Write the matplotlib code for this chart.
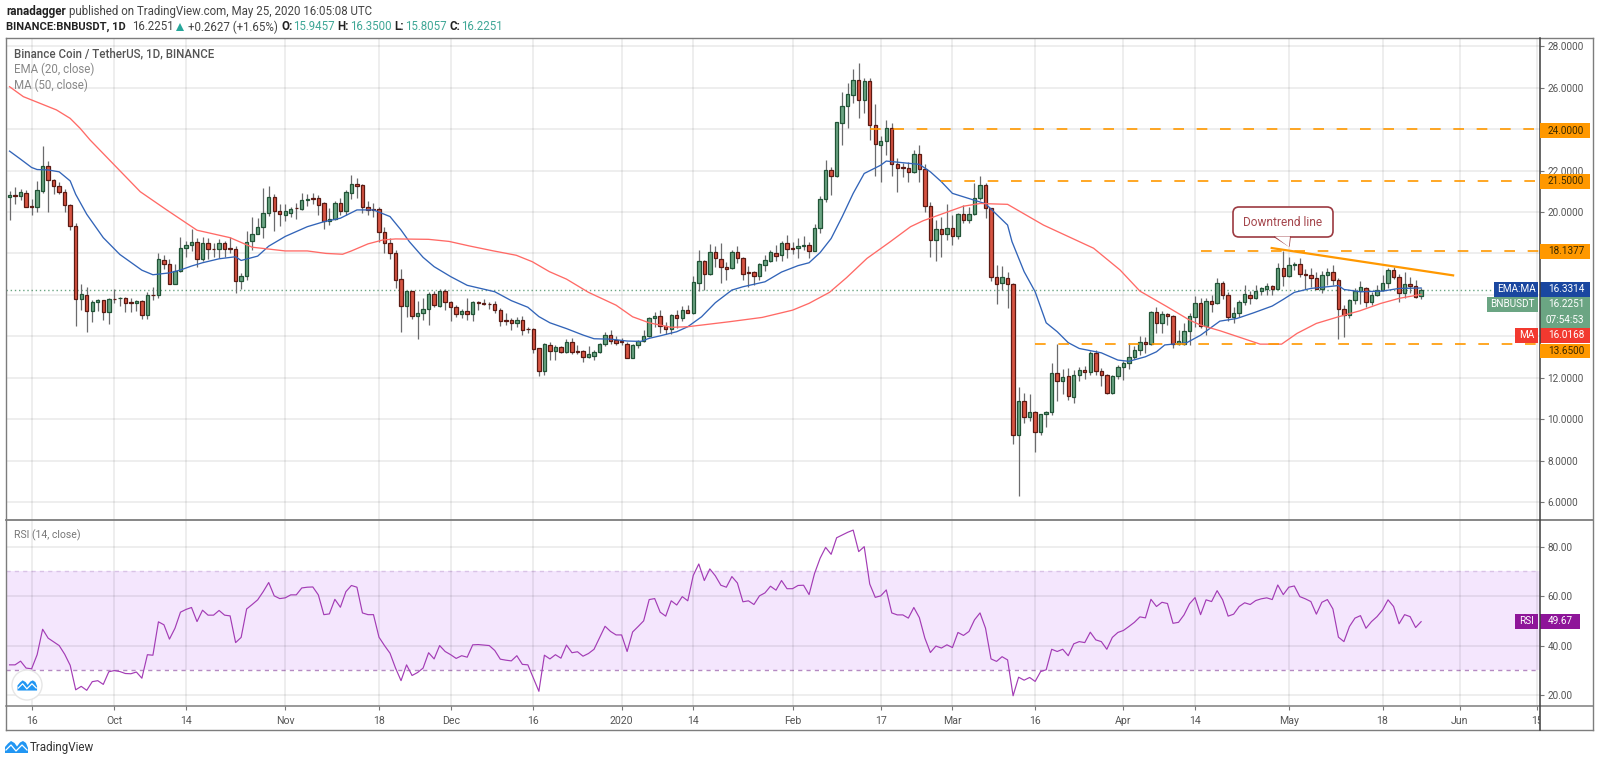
import matplotlib
matplotlib.use('Agg')
import matplotlib.pyplot as plt
from matplotlib.patches import Rectangle, FancyBboxPatch, Polygon, Circle
from matplotlib.transforms import IdentityTransform, Bbox

W, H = 1600, 763

# day numbers count from 16 Sep 2019 = 0, first candle is 12 Sep 2019
first_day = -4

opens = [20.71,20.82,20.77,20.94,20.28,20.23,21.02,22.23,21.53,21.27,
 20.97,20.35,19.32,15.81,15.98,15.21,15.65,15.73,15.16,15.82,
 15.83,15.85,15.65,15.61,15.68,15.02,16.0,15.98,17.69,17.5,
 16.53,17.15,18.24,18.4,18.55,17.71,18.5,18.21,18.19,18.5,
 18.24,18.23,16.66,16.9,18.58,18.94,19.29,19.94,20.71,20.06,19.87,
 19.96,20.19,20.15,20.6,20.67,20.67,20.44,19.57,19.66,20.44,
 20.06,20.93,21.37,21.29,20.24,20.13,20.15,19.03,18.49,18.04,
 16.75,15.46,16.17,14.99,15.11,15.32,16.04,15.48,16.18,15.67,
 15.4,15.09,15.23,15.09,15.65,15.62,15.58,15.54,15.28,14.77,
 14.77,14.65,14.8,14.36,14.36,13.42,12.32,13.59,13.29,13.46,
 13.25,13.72,13.28,13.28,13.01,13.06,13.23,13.64,14.06,13.8,
 13.75,13.65,12.96,13.6,13.75,14.02,14.88,14.97,14.49,14.33,
 15.01,14.88,15.25,15.14,16.58,17.62,17.0,18.05,17.74,17.36,
 17.31,18.08,17.78,17.1,17.08,16.92,17.44,17.65,18.03,17.9,
 18.52,18.26,18.24,18.37,18.42,18.13,19.24,20.63,22.01,
 21.75,24.31,25.11,25.65,26.35,25.4,26.34,24.2,23.25,23.42,
 24.04,22.31,22.17,22.14,21.91,22.78,22.06,20.28,18.67,19.16,
 18.93,19.22,18.85,19.9,19.61,19.88,20.67,21.31,20.2,16.87,
 16.55,16.82,
 16.52,9.21,10.85,10.08,10.35,9.39,10.23,10.35,12.21,11.85,
 12.08,11.08,12.11,12.38,12.29,13.17,12.3,12.11,11.24,12.08,
 12.5,12.69,12.98,13.33,13.72,13.62,15.15,14.65,15.07,
 14.98,13.65,13.65,14.25,14.94,15.59,14.51,15.7,15.59,16.59,
 16.01,14.91,15.1,15.67,16.01,15.86,16.17,16.3,16.41,
 16.3,17.32,16.9,17.46,17.47,17.03,16.95,16.81,16.29,16.94,
 17.08,16.74,15.31,15.04,15.73,16.18,16.31,15.65,16.0,16.25,
 16.57,17.2,16.87,16.07,16.52,16.42,15.9457]

highs = [21.02,21.23,21.13,21.06,20.61,21.5,23.19,22.44,21.58,21.45,
 21.1,20.39,19.48,16.5,16.39,15.77,15.81,15.77,15.85,16.26,
 15.89,15.9,15.85,15.77,15.74,16.13,16.39,18.0,17.9,17.74,
 17.47,18.79,18.6,19.16,18.76,18.81,18.76,18.48,18.68,18.6,
 18.81,18.35,17.06,19.08,19.77,19.73,21.16,21.26,20.85,20.37,20.37,
 20.23,20.42,20.9,20.87,20.9,20.81,20.47,20.18,20.55,20.66,
 21.06,21.79,21.63,21.35,20.55,20.42,20.23,19.26,18.73,18.17,
 17.25,16.18,16.2,15.72,15.83,16.15,16.18,16.3,16.26,15.7,
 15.51,15.31,15.83,15.7,15.72,15.78,15.67,15.72,15.35,15.11,
 14.86,14.94,14.98,14.46,14.4,13.42,13.66,13.74,13.58,13.53,
 13.85,13.9,13.57,13.36,13.53,13.33,13.69,14.22,14.3,14.02,
 13.9,13.72,13.65,13.82,14.3,14.94,15.17,15.26,14.7,15.07,
 15.26,15.46,15.5,16.91,18.16,17.68,18.45,18.36,18.48,17.6,
 18.16,18.36,17.81,17.39,17.16,17.52,17.92,18.16,18.4,18.61,
 18.89,18.56,18.73,18.84,18.56,19.42,20.79,22.51,22.16,
 24.36,25.81,26.21,26.89,27.18,26.45,26.45,25.21,23.67,24.44,
 24.31,22.63,22.39,22.43,22.99,23.23,22.31,20.49,19.61,19.74,
 20.38,19.85,19.96,20.33,20.25,21.41,21.73,21.41,20.2,17.44,
 17.39,17.1,
 16.55,11.53,11.24,11.21,10.4,10.27,10.4,12.69,13.62,12.4,
 12.45,12.37,12.53,12.56,13.3,13.33,12.45,12.17,12.13,12.61,
 12.82,13.69,13.54,14.03,13.95,15.22,15.43,15.22,15.14,
 15.02,14.3,14.62,15.1,15.96,15.83,15.83,15.99,16.79,16.67,
 16.15,15.4,15.75,16.47,16.2,16.47,16.39,16.55,16.47,
 17.52,18.11,17.84,17.6,17.76,17.24,17.32,17.11,17.15,17.32,
 17.44,16.79,15.5,15.78,16.31,16.68,16.36,16.12,16.47,16.95,
 17.32,17.35,17.03,17.11,16.84,16.74,16.35]

lows = [19.61,20.4,20.6,20.26,19.87,20.0,20.94,20.0,20.85,20.89,
 20.0,19.13,14.48,15.29,14.21,14.68,15.24,14.77,14.6,15.61,
 15.45,15.18,15.15,15.21,14.85,14.81,15.74,15.85,17.23,16.5,
 16.5,17.1,17.82,18.11,17.34,17.63,17.71,17.84,17.79,17.84,
 18.0,16.1,16.26,16.71,18.15,18.92,18.76,19.81,19.08,19.32,19.56,
 19.74,19.66,20.1,20.29,20.37,19.86,19.18,19.37,19.61,19.86,
 19.86,20.61,20.66,19.94,19.86,19.78,18.57,18.04,17.71,16.31,
 14.22,14.91,14.83,13.85,14.78,14.54,15.4,15.43,15.27,14.75,
 14.94,14.86,14.78,14.75,15.27,15.49,15.3,15.11,14.5,14.54,
 14.3,14.46,14.06,14.14,13.2,12.08,12.13,12.85,12.85,13.2,
 13.17,13.14,13.14,12.77,12.96,12.85,13.17,13.54,13.65,13.57,
 13.57,12.93,12.93,13.41,13.72,13.98,14.43,14.14,14.1,14.1,
 14.38,14.75,15.1,15.07,16.2,16.23,16.96,17.36,16.58,16.71,
 17.23,17.52,16.71,16.39,16.47,16.71,17.16,17.6,17.65,17.65,
 17.76,17.97,17.76,18.16,17.79,18.1,18.97,20.5,20.82,
 21.7,23.23,24.04,25.24,24.52,24.76,23.47,21.73,21.46,22.75,
 21.73,20.98,21.67,21.46,21.86,21.46,20.01,17.84,17.64,17.84,
 18.64,18.4,18.72,19.45,19.45,19.85,20.57,19.69,16.68,15.56,
 16.23,15.35,
 8.82,6.31,9.82,9.92,8.39,9.23,9.6,10.19,10.89,11.21,
 10.92,10.79,11.85,11.96,12.13,12.13,11.59,11.21,11.21,11.96,
 11.88,12.43,12.88,13.08,13.17,13.58,14.17,14.14,14.54,
 13.41,13.57,13.57,13.57,14.46,14.38,14.06,15.18,15.55,15.78,
 14.75,14.65,14.91,15.51,15.55,15.78,15.99,15.99,15.99,
 16.26,16.42,16.87,17.2,16.84,16.26,16.39,16.26,16.07,16.47,
 16.47,13.85,13.97,14.88,15.58,15.58,15.39,15.5,15.94,16.2,
 16.31,16.78,15.67,15.83,16.07,15.87,15.8057]

closes = [20.84,20.79,20.97,20.26,20.24,21.06,22.23,21.53,21.26,20.97,
 20.35,19.32,15.81,16.05,15.21,15.65,15.74,15.16,15.81,15.79,
 15.86,15.6,15.61,15.68,15.02,16.0,15.98,17.73,17.5,16.53,
 17.15,18.24,18.42,18.55,17.71,18.52,18.19,18.19,18.52,18.23,
 18.21,16.66,16.9,18.56,18.95,19.29,19.94,20.74,20.05,19.89,20.03,
 20.15,20.17,20.6,20.63,20.64,20.35,19.57,19.68,20.44,20.06,
 20.95,21.37,21.27,20.23,20.1,20.1,19.03,18.49,18.04,16.73,
 15.46,16.18,14.99,15.11,15.32,16.06,15.49,16.18,15.67,15.4,
 15.09,15.23,15.06,15.64,15.63,15.57,15.55,15.28,14.75,14.74,
 14.65,14.8,14.32,14.33,13.4,12.32,13.61,13.29,13.46,13.24,
 13.72,13.25,13.24,13.01,13.12,13.23,13.64,14.06,13.78,13.67,
 13.72,12.96,13.6,13.75,14.02,14.88,14.97,14.51,14.36,15.01,
 14.89,15.26,15.14,16.6,17.62,17.0,18.05,17.78,17.34,17.26,
 18.08,17.78,17.0,17.05,16.92,17.47,17.66,18.05,17.87,18.52,
 18.21,18.23,18.37,18.42,18.13,19.21,20.63,22.01,21.75,
 24.34,25.11,25.68,26.35,25.4,26.34,24.21,23.26,23.42,24.04,
 22.31,22.14,22.14,21.93,22.78,22.06,20.28,18.67,19.16,18.93,
 19.22,18.85,19.9,19.61,19.9,20.7,21.31,20.2,16.87,16.52,
 16.84,16.52,
 9.23,10.85,10.08,10.35,9.39,10.23,10.35,12.21,11.85,12.05,
 11.13,12.11,12.38,12.29,13.17,12.3,12.11,11.24,12.08,12.5,
 12.69,12.98,13.33,13.72,13.62,15.15,14.65,15.06,14.99,
 13.65,13.75,14.25,14.96,15.59,14.49,15.7,15.57,16.59,16.01,
 14.91,15.1,15.67,16.02,15.86,16.18,16.31,16.41,16.3,
 17.32,16.9,17.42,17.48,17.03,16.94,16.81,16.29,16.95,17.08,
 16.74,15.31,15.04,15.73,16.18,16.36,15.65,16.0,16.25,16.58,
 17.2,16.84,16.07,16.52,16.42,15.91,16.2251]

# moving averages at its bends
ema_days = [-4,-2,0,1,3,5,7,8,10,13,16,20,22,25,27,29,31,34,37,38,41,43,46,50,53,56,59,62,
 65,67,68.5,71,73,76,79,84,87,90,92,94,97,100,102,105,108,110.5,112,114,117,119,121.5,124,
 127,129,133,136,139,141,143,145,147,149,151,154,155,158,161,163,165,167,170,173,177,177.8,
 180,182,184,186,188,190,194,197,199,202,204,205.5,209.5,212,215.5,218.6,221.6,225,227,229,
 232,235,237,238,241,245,248,252]
ema_vals = [22.94,22.55,22.15,22.05,22.03,21.94,21.5,20.85,19.89,18.76,17.95,17.19,16.97,17.06,
 17.2,17.39,17.55,17.74,17.84,17.66,17.87,18.35,18.82,19.29,19.53,19.7,20.1,20.1,
 19.78,19.13,18.57,17.81,17.36,16.88,16.46,16.15,15.72,15.4,14.95,14.65,14.37,14.06,13.88,
 13.86,13.77,13.75,13.9,14.02,14.22,14.46,14.94,15.62,16.23,16.39,16.63,17.1,17.41,17.55,
 18.04,18.72,19.77,20.9,21.86,22.26,22.46,22.38,22.3,21.94,21.46,20.9,20.65,20.4,19.37,
 18.57,17.12,16.15,14.65,14.22,13.69,13.41,13.2,12.85,12.79,13.01,13.25,13.58,13.69,14.05,
 14.73,14.86,15.13,15.46,15.78,16.12,16.31,16.39,16.45,16.26,16.15,16.18,16.31,16.33]

ma_days = [-4,-1.5,1.5,4.5,7,8.8,10.6,15,19.7,24.5,30,36,40,46,50,53.4,56.4,58,61,63.7,66,72,75.7,79.4,
 83.6,87.9,90.8,93.9,97,101,106,109,112,116,119,126.5,132.5,138,141,144.7,147.8,151.5,155.7,
 159.4,161.7,169,172,177,183.5,192.6,197.4,201,205.9,210,212,215.6,219.2,222.8,226.7,229.5,
 233,237,240.9,244.6,248,252]
ma_vals = [26.05,25.57,25.25,24.93,24.52,24.04,23.48,22.27,20.98,20.1,19.12,18.76,18.3,18.12,18.12,18.0,17.96,
 18.12,18.46,18.65,18.7,18.68,18.58,18.36,18.13,17.91,17.6,17.12,16.76,16.12,15.5,14.94,
 14.65,14.43,14.46,14.7,14.91,15.26,15.59,16.12,16.83,17.76,18.56,19.29,19.58,20.28,20.41,
 20.37,19.37,18.25,17.2,16.18,15.43,14.78,14.54,14.26,13.94,13.62,13.62,14.14,14.62,14.94,
 15.23,15.58,15.83,16.02]

rsi_vals = [32.2,32.2,33.7,30.9,30.6,36.3,46.6,43,41.5,40,36.5,32,22.1,23.5,21.9,25.4,25.8,24.3,29.4,29.9,
 29.5,28.7,28.6,29.3,26.8,36.3,36.1,49.6,48.4,42.6,47,53.5,54.6,55.4,49.7,54.3,52.3,52.3,54.2,52.3,
 52,41.2,43.3,54.8,56.6,58.5,61.8,65.5,60.1,59,59.3,60.5,60.5,63.3,63.6,63.7,60.5,52.5,52.8,58.7,
 55.5,61.8,64.3,63.6,53.2,52.5,52.5,43.4,40,36.9,30.9,25.8,32.2,27.9,29.1,30.9,37.1,34.6,40,37.6,
 36.3,34.8,35.9,35.3,40.3,40.4,40.2,40,38,34.5,34.1,33.8,35.9,32.4,32.2,26.8,21.5,36.1,34.6,36.3,
 34.9,40.2,37.1,37.5,35.7,36.8,38.5,43.1,47.8,45.7,44.3,44.3,37.6,45.5,47.7,50,58.6,59,53.5,51.9,
 58.1,56.4,59.8,58.1,68.4,73,66.3,71,68.2,64.4,63.6,67.9,65.3,57.7,58.1,56.6,60.1,61.3,64,62.4,
 66.3,63,63,64.3,64.4,60.6,69.2,75.3,79.7,76.9,83.6,84.7,85.8,86.7,78,80,64.9,59.5,60.1,62.5,
 53.2,52.4,52.4,51.1,55.4,51.3,43,37.2,39.8,39,40.3,39.2,45.3,44.1,45.7,50.4,53.2,47,34.6,33.6,
 35.5,34.2,19.7,27.2,26,27.1,25.5,29.5,30.2,38.5,37.6,38.5,35.9,40.7,41.6,41.2,45.4,42.3,41.6,38.5,
 43.3,45.3,46.1,47.7,49.4,51.6,51.2,58.7,55.8,57.5,57,49,49.4,52.4,56.9,59.4,52.5,58.5,57.8,62.2,
 58.5,51.9,52.7,55.8,57.3,56.6,58.2,58.9,59.3,58.6,64.5,60.6,63.6,64.1,59.8,58.9,57.8,52.7,57.5,58.6,
 54.8,43.4,41.6,47.7,51.1,52.1,47,49.7,51.7,54.4,58.5,55.8,48.8,52.5,51.7,47.3,49.67]

date_ticks = [0,15,28,46,63,76,91,107,120,138,154,167,182,198,211,228,245,259,273]
date_labels = ['16','Oct','14','Nov','18','Dec','16','2020','14','Feb','17','Mar','16','Apr','14','May','18','Jun','15']
price_ticks = [6,8,10,12,14,16,18,20,22,24,26,28]
hidden_prices = [14,16,18,24]  # tags sit on these in the scale
rsi_ticks = [20,40,60,80]

# horizontal levels: price, first day
level_prices = [24.0, 21.5, 18.1377, 13.65]
level_days = [152, 165, 212, 182]
trend_days = [224.9, 257.8]
trend_prices = [18.26, 16.94]

last_price = 16.2251
last_ema = 16.3314
last_ma = 16.0168
last_rsi = 49.67

up_fill, up_edge = '#6ba583', '#225437'
down_fill, down_edge = '#d75442', '#5b1a13'
wick_col = '#6b6b6d'
orange = '#ff9800'
txt_col = '#555555'
frame_col = '#7d7d7d'

plt.rcParams['font.family'] = 'Roboto'
fig = plt.figure(figsize=(W / 100, H / 100), dpi=100, facecolor='white')


def axes_px(left, top, right, bottom):
    return fig.add_axes([left / W, 1 - bottom / H, (right - left) / W, (bottom - top) / H])


def fx(x):
    return x / W


def fy(y):
    return 1 - y / H


def label(x, y, s, **kw):
    kw.setdefault('va', 'center')
    kw.setdefault('color', txt_col)
    return fig.text(fx(x), fy(y), s, **kw)


def box(x0, y0, x1, y1, col, z=5):
    fig.patches.append(Rectangle((x0, H - y1), x1 - x0, y1 - y0, transform=IdentityTransform(),
                                 facecolor=col, edgecolor='none', zorder=z, figure=fig))


def hline_px(x0, x1, y, col=frame_col, lw=1.0, z=6):
    fig.add_artist(plt.Line2D([fx(x0), fx(x1)], [fy(y), fy(y)], color=col, lw=lw, zorder=z))


def vline_px(x, y0, y1, col=frame_col, lw=1.0, z=6):
    fig.add_artist(plt.Line2D([fx(x), fx(x)], [fy(y0), fy(y1)], color=col, lw=lw, zorder=z))


# panes: price on top, RSI below, same day scale
days_per_px = 1 / 5.514
xleft = (6 - 31.6) * days_per_px
xright = (1540 - 31.6) * days_per_px
ax = axes_px(6, 38, 1540, 520)
rs = axes_px(6, 520, 1540, 706)

ax.set_xlim(xleft, xright)
ax.set_ylim(20 - (520 - 212) / 20.71, 20 + (212 - 38) / 20.71)
rs.set_xlim(xleft, xright)
rs.set_ylim(20 - (706 - 695) / 2.477, 80 + (546.7 - 520) / 2.477)

for a in (ax, rs):
    a.set_axisbelow('line')
    a.grid(True, color='#000000', alpha=0.085, lw=1.1)
    for s in a.spines.values():
        s.set_visible(False)
    a.set_xticks(date_ticks)
    a.yaxis.tick_right()
    a.tick_params(axis='y', length=3, width=0.8, color='#777777', labelsize=7.2,
                  labelcolor=txt_col, pad=2.5)

ax.tick_params(axis='x', length=0, labelbottom=False)
ax.set_yticks(price_ticks)
ax.set_yticklabels(['' if p in hidden_prices else f'{p:.4f}' for p in price_ticks])
rs.set_yticks(rsi_ticks)
rs.set_yticklabels([f'{r:.2f}' for r in rsi_ticks])
rs.set_xticklabels(date_labels)
rs.tick_params(axis='x', length=3, width=0.8, color='#777777', labelsize=7.6, labelcolor=txt_col, pad=4)
clip = Bbox([[0, 0], [1540, H]])
for t in rs.get_xticklabels():
    t.set_clip_box(clip)
    t.set_clip_on(True)

# candles
days = [first_day + i for i in range(len(opens))]
ax.vlines(days, lows, highs, color=wick_col, lw=0.9, zorder=2)
for d, o, c in zip(days, opens, closes):
    up = c >= o
    ax.bar(d, max(abs(c - o), 0.03), bottom=min(o, c), width=0.62, zorder=3,
           color=up_fill if up else down_fill,
           edgecolor=up_edge if up else down_edge, linewidth=0.9)

ax.plot(ema_days, ema_vals, color='#3264b8', lw=0.95, zorder=4)
ax.plot(ma_days, ma_vals, color='#ff6a66', lw=0.95, zorder=4)
ax.axhline(last_price, color=up_fill, lw=1.0, ls=(0, (1, 2)), zorder=1.5)

for p, d in zip(level_prices, level_days):
    ax.plot([d, xright], [p, p], color=orange, lw=1.2, ls=(0, (6.4, 7.6)), zorder=4)
ax.plot(trend_days, trend_prices, color=orange, lw=1.6, zorder=5)

# RSI pane
rs.axhspan(30, 70, color='#f4e6fd', lw=0, zorder=0.5)
rs.axhline(70, color='#d9c2e6', lw=1.0, ls=(0, (3, 3)), zorder=1)
rs.axhline(30, color='#b58ac2', lw=1.0, ls=(0, (3, 3)), zorder=1)
rs.plot(days, rsi_vals, color='#a33cb5', lw=0.85, zorder=3)

# callout
bubble = FancyBboxPatch((1236, H - 234), 94, 24, boxstyle='round,pad=3,rounding_size=6',
                        transform=IdentityTransform(), facecolor='white', edgecolor='#9c3a41',
                        lw=1.2, zorder=8, figure=fig)
fig.patches.append(bubble)
fig.patches.append(Polygon([(1275, H - 236.5), (1289, H - 247), (1290, H - 236.5)], closed=True,
                           transform=IdentityTransform(), facecolor='white', edgecolor='none',
                           zorder=9, figure=fig))
fig.add_artist(plt.Line2D([fx(1275), fx(1289), fx(1290)], [fy(237), fy(246), fy(237)], color='#9c3a41', lw=1.1, zorder=9))
label(1283, 222, 'Downtrend line', ha='center', color='#a5474d', fontsize=8.6, zorder=10)

# outer frame and pane separators
hline_px(6, 1593, 38)
hline_px(6, 1593, 730)
vline_px(6, 38, 730)
vline_px(1593, 38, 730)
hline_px(6, 1593, 520, lw=1.3)
hline_px(6, 1593, 706, lw=1.1)
vline_px(1540, 38, 730, col='#3c3c3c', lw=1.1)

# price tags on the scale
tag_kw = dict(ha='left', color='white', fontsize=7.2, zorder=12)
side_kw = dict(ha='center', color='white', fontsize=7.2, zorder=12)
for y0, y1, s in [(123, 138, '24.0000'), (174, 189, '21.5000'), (244, 259, '18.1377'), (344, 358, '13.6500')]:
    box(1540, y0, 1590, y1, orange, z=9)
    label(1548, (y0 + y1) / 2, s, ha='left', color='#3a2a00', fontsize=7.2, zorder=12)
box(1494, 282, 1538, 297, '#1a47a0')
box(1540, 282, 1590, 297, '#1a47a0')
label(1516, 289.5, 'EMA:MA', **side_kw)
label(1548, 289.5, f'{last_ema:.4f}', **tag_kw)
box(1487, 297, 1538, 312, up_fill)
box(1540, 297, 1590, 328, up_fill)
label(1512.5, 304.5, 'BNBUSDT', **side_kw)
label(1548, 304.5, f'{last_price:.4f}', **tag_kw)
label(1546, 320, '07:54:53', **tag_kw)
box(1515, 328, 1538, 343, '#f2392f')
box(1540, 328, 1590, 343, '#f2392f')
label(1526.5, 335.5, 'MA', **side_kw)
label(1548, 335.5, f'{last_ma:.4f}', **tag_kw)
box(1515, 614, 1538, 629, '#8e1599')
box(1540, 614, 1580, 629, '#8e1599')
label(1526.5, 621.5, 'RSI', **side_kw)
label(1548, 621.5, f'{last_rsi:.2f}', **tag_kw)

# legends inside the panes
label(14, 54, 'Binance Coin / TetherUS, 1D, BINANCE', fontsize=8.3, fontweight='medium', zorder=8)
label(14, 69, 'EMA (20, close)', color='#888888', fontsize=8.3, zorder=8)
label(14, 85, 'MA (50, close)', color='#888888', fontsize=8.3, zorder=8)
label(14, 535, 'RSI (14, close)', color='#777777', fontsize=7.6, zorder=8)

# header lines, each piece at its own x
dark = '#222222'
mid = '#444444'
teal = '#3fa796'
head = [(6, 11, 'ranadagger', dark, 'bold', 8.4),
        (69, 11, 'published on TradingView.com, May 25, 2020 16:05:08 UTC', mid, 'normal', 8.3),
        (6, 27, 'BINANCE:BNBUSDT, 1D', dark, 'bold', 8.0),
        (132, 27, '16.2251', mid, 'normal', 8.3),
        (188, 27, '+0.2627 (+1.65%)', mid, 'normal', 8.3),
        (281, 27, 'O:', dark, 'bold', 8.3),
        (293, 27, '15.9457', teal, 'normal', 8.3),
        (337, 27, 'H:', dark, 'bold', 8.3),
        (350, 27, '16.3500', teal, 'normal', 8.3),
        (394, 27, 'L:', dark, 'bold', 8.3),
        (405, 27, '15.8057', teal, 'normal', 8.3),
        (449, 27, 'C:', dark, 'bold', 8.3),
        (461, 27, '16.2251', teal, 'normal', 8.3)]
for x, y, s, col, weight, size in head:
    label(x, y, s, color=col, fontsize=size, fontweight=weight)
fig.patches.append(Polygon([(176, H - 31), (184, H - 31), (180, H - 23)], closed=True,
                           transform=IdentityTransform(), facecolor='#26a69a', edgecolor='none', figure=fig))


# TradingView mark
def logo(x, y, s, z):
    cloud = [(0, 10), (0, 7), (3, 3.5), (6, 1), (9.5, 3), (12, 6.5), (15, 2.5), (18, 1), (21, 3), (23, 8), (23, 13), (0, 13)]
    fig.patches.append(Polygon([(x + a * s, H - (y + b * s)) for a, b in cloud], closed=True, transform=IdentityTransform(),
                               facecolor='#2196f3', edgecolor='none', zorder=z, figure=fig))
    zig = [(1, 10), (6, 5), (11, 11), (17, 5), (22, 10)]
    fig.add_artist(plt.Line2D([fx(x + a * s) for a, b in zig], [fy(y + b * s) for a, b in zig], color='white', lw=0.9, zorder=z + 1))


logo(5, 740, 1.0, 8)
label(30, 747, 'TradingView', color='#333333', fontsize=8.4)
fig.patches.append(Circle((27, H - 685), 15, transform=IdentityTransform(), facecolor='white', edgecolor='#e6e6e6',
                          lw=1.0, zorder=7, figure=fig))
logo(17.5, 679.5, 0.85, 8)

fig.savefig('out.png', dpi=100)
